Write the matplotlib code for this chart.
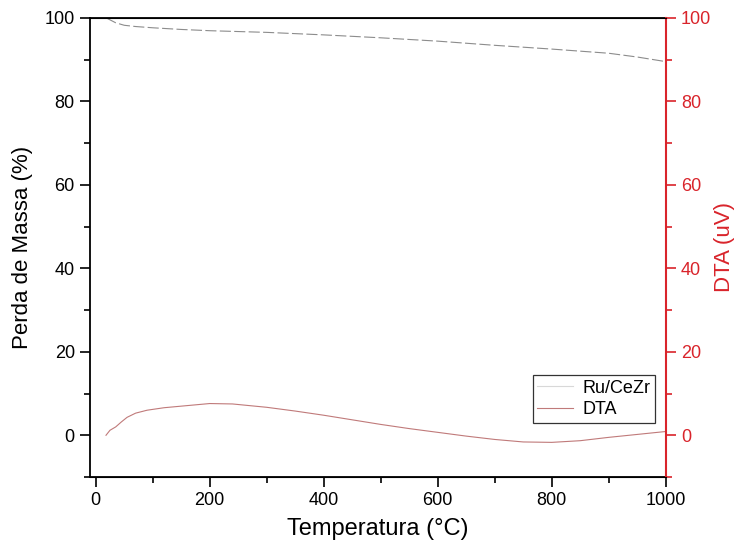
import numpy as np
import matplotlib.pyplot as plt
from matplotlib.ticker import MultipleLocator

plt.rcParams['font.family'] = ['Liberation Sans', 'DejaVu Sans']

# TG curve (mass %)
temp_tg = [18, 25, 35, 50, 70, 100, 150, 200, 250, 300, 400, 500, 600, 700, 800, 900, 950, 1000]
massa = [100, 99.5, 98.8, 98.2, 97.9, 97.6, 97.2, 96.9, 96.7, 96.5, 95.9, 95.2, 94.4, 93.4, 92.5, 91.5, 90.6, 89.5]

# DTA curve (uV)
temp_dta = [18, 25, 35, 45, 55, 70, 90, 120, 160, 200, 240, 300, 350, 400, 450, 500, 550, 600, 650, 700, 750, 800, 850, 900, 950, 1000]
dta = [0, 1.2, 2.0, 3.2, 4.3, 5.3, 6.0, 6.6, 7.1, 7.6, 7.5, 6.7, 5.8, 4.8, 3.7, 2.6, 1.6, 0.7, -0.2, -1.0, -1.6, -1.7, -1.3, -0.5, 0.2, 0.9]

fig = plt.figure(figsize=(7.38, 5.55), dpi=100)
ax = fig.add_axes([0.122, 0.1405, 0.78, 0.8275])
ax2 = ax.twinx()

l1, = ax.plot(temp_tg, massa, color='#8c8c8c', lw=0.8, dashes=(10, 3), label='Ru/CeZr')
l2, = ax2.plot(temp_dta, dta, color='#c07a7a', lw=0.8, label='DTA')

for a in (ax, ax2):
    a.set_ylim(-10, 100)
    a.yaxis.set_major_locator(MultipleLocator(20))
    a.yaxis.set_minor_locator(MultipleLocator(10))
ax.set_xlim(-10, 1000)
ax.xaxis.set_major_locator(MultipleLocator(200))
ax.xaxis.set_minor_locator(MultipleLocator(100))

red = '#d9242b'
ax.tick_params(which='both', direction='out', labelsize=13, width=1.2, pad=4)
ax2.tick_params(which='both', direction='out', labelsize=13, width=1.2, colors=red, pad=4)
for a in (ax, ax2):
    a.tick_params(which='major', length=7)
    a.tick_params(which='minor', length=4)

for s in ax.spines.values():
    s.set_linewidth(1.3)
ax2.spines['right'].set_color(red)
ax2.spines['right'].set_linewidth(1.5)
ax2.spines['left'].set_visible(False)

ax.set_xlabel('Temperatura (°C)', fontsize=17, labelpad=6)
ax.set_ylabel('Perda de Massa (%)', fontsize=16, labelpad=8)
ax2.set_ylabel('DTA (uV)', fontsize=16, color=red, labelpad=2)

leg = ax2.legend([l1, l2], ['Ru/CeZr', 'DTA'], loc='lower right',
                 bbox_to_anchor=(0.981, 0.118), fontsize=13, frameon=True,
                 fancybox=False, edgecolor='black', borderpad=0.25,
                 handlelength=2.0, handletextpad=0.5, labelspacing=0.25,
                 borderaxespad=0)
leg.get_frame().set_linewidth(0.9)
leg.get_lines()[0].set_color('#d8d8d8')
leg.get_lines()[0].set_dashes((None, None))

fig.savefig('out.png', dpi=100)
